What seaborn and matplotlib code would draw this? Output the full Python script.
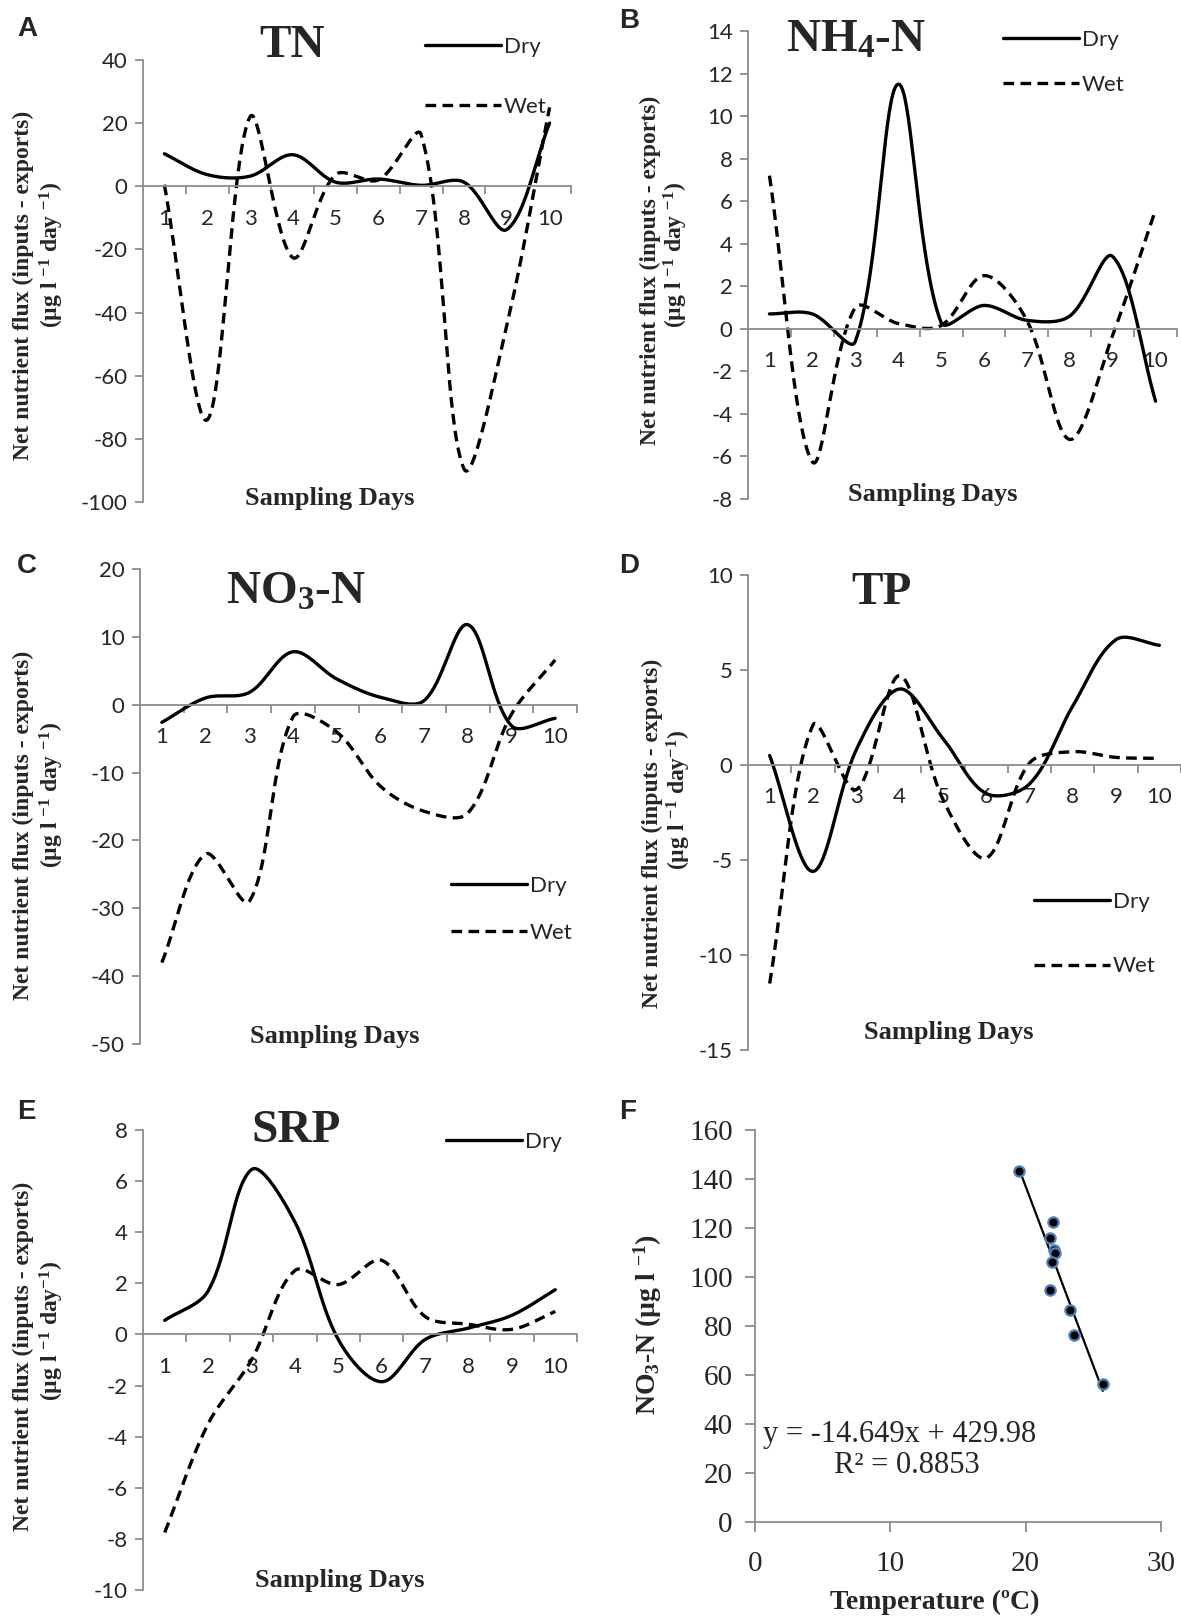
import numpy as np
import matplotlib
matplotlib.use("Agg")
import matplotlib.pyplot as plt
import seaborn as sns

days = list(range(1, 11))

tn_dry = [10.3, 3.7, 3.2, 10.0, 1.3, 2.3, 0.3, 1.3, -13.7, 20.0]
tn_wet = [0.5, -74.0, 22.0, -22.6, 3.7, 2.0, 16.3, -89.5, -44.0, 25.0]

nh4_dry = [0.7, 0.7, -0.6, 11.5, 0.3, 1.1, 0.4, 0.6, 3.4, -3.4]
nh4_wet = [7.2, -6.25, 1.0, 0.25, 0.15, 2.5, 0.4, -5.2, -0.3, 5.6]

no3_dry = [-2.6, 1.0, 1.8, 7.8, 3.8, 1.1, 0.6, 11.8, -3.1, -2.0]
no3_wet = [-38.0, -22.0, -29.0, -1.8, -4.0, -12.0, -15.7, -16.0, -1.4, 6.6]

tp_dry = [0.5, -5.6, 0.8, 4.0, 1.4, -1.5, -1.0, 3.1, 6.6, 6.3]
tp_wet = [-11.5, 2.1, -1.3, 4.7, -1.8, -4.9, 0.1, 0.7, 0.4, 0.35]

srp_dry = [0.55, 1.7, 6.45, 4.4, -0.2, -1.85, -0.2, 0.25, 0.75, 1.75]
srp_wet = [-7.75, -3.5, -1.0, 2.5, 1.95, 2.9, 0.7, 0.4, 0.2, 0.9]

temps = [19.5, 22.0, 21.8, 22.1, 22.2, 21.95, 21.8, 23.3, 23.6, 25.7]
no3_conc = [143.2, 122.3, 116.1, 111.0, 109.6, 106.2, 94.6, 86.4, 76.2, 56.2]
slope, intercept = -14.649, 429.98

W, H = 1181, 1618
GRAY = "#8c8c8c"
SERIF = "Liberation Serif"
SANS = "Lato"

sns.set_theme(style="white")
plt.rcParams["font.family"] = [SANS, "DejaVu Sans"]
plt.rcParams["axes.unicode_minus"] = False
plt.rcParams["mathtext.fontset"] = "custom"
plt.rcParams["mathtext.rm"] = "Liberation Serif:bold"
plt.rcParams["mathtext.it"] = "Liberation Serif:bold"
plt.rcParams["mathtext.bf"] = "Liberation Serif:bold"


def smooth(x, y, sx, sy, n=40):
    # excel-like smoothed line, tangents weighted by segment length on screen
    p = np.column_stack([np.asarray(x, float) * sx, np.asarray(y, float) * sy])
    t = np.linspace(0, 1, n)[:, None]
    out = []
    k = len(p)
    for i in range(k - 1):
        p1, p2 = p[i], p[i + 1]
        p0 = p[i - 1] if i > 0 else p1
        p3 = p[i + 2] if i + 2 < k else p2
        d01 = np.hypot(*(p1 - p0))
        d12 = np.hypot(*(p2 - p1))
        d23 = np.hypot(*(p3 - p2))
        c1 = p1 + (p2 - p0) * d12 / (d01 + d12) / 3
        c2 = p2 - (p3 - p1) * d12 / (d12 + d23) / 3
        b = (1 - t) ** 3 * p1 + 3 * (1 - t) ** 2 * t * c1 + 3 * (1 - t) * t ** 2 * c2 + t ** 3 * p2
        out.append(b if i == 0 else b[1:])
    out = np.vstack(out)
    return out[:, 0] / sx, out[:, 1] / sy


def px_axes(left, top, right, bottom):
    return fig.add_axes([left / W, 1 - bottom / H, (right - left) / W, (bottom - top) / H])


def ftext(x, y, s, **kw):
    fig.text(x / W, 1 - y / H, s, **kw)


fig = plt.figure(figsize=(W / 100, H / 100), dpi=100)

panels = [
    ("A", "TN", tn_dry, tn_wet, (143, 60, 571, 502), (-100, 40), 20, (17, 29), (292, 46), (330, 498),
     [(23, 285, "Net nutrient flux (inputs - exports)"), (52, 255, r"(µg l $^{-1}$ day $^{-1}$)")], (425, 37), 1.8, True),
    ("B", r"NH$_4$-N", nh4_dry, nh4_wet, (748, 31, 1177, 499), (-8, 14), 2, (619, 21), (856, 41), (933, 495),
     [(650, 270, "Net nutrient flux (inputs - exports)"), (676, 255, r"(µg l $^{-1}$ day $^{-1}$)")], (1003, 30), 1.13, True),
    ("C", r"NO$_3$-N", no3_dry, no3_wet, (140, 569, 577, 1044), (-50, 20), 10, (17, 566), (296, 593), (335, 1037),
     [(23, 825, "Net nutrient flux (inputs - exports)"), (52, 795, r"(µg l $^{-1}$ day $^{-1}$)")], (451, 876), 1.2, True),
    ("D", "TP", tp_dry, tp_wet, (748, 575, 1181, 1050), (-15, 10), 5, (619, 566), (882, 593), (949, 1033),
     [(652, 833, "Net nutrient flux (inputs - exports)"), (679, 800, r"(µg l $^{-1}$ day$^{-1}$)")], (1034, 892), 2.0, True),
    ("E", "SRP", srp_dry, srp_wet, (143, 1130, 577, 1590), (-10, 8), 2, (17, 1112), (296, 1131), (340, 1580),
     [(23, 1356, "Net nutrient flux (inputs - exports)"), (52, 1331, r"(µg l $^{-1}$ day$^{-1}$)")], (446, 1132), 1.4, False),
]

for (letter, title, dry, wet, box, ylim, step, lpos, tpos, spos, ylines, legpos, lspace, showwet) in panels:
    ax = px_axes(*box)
    sx = (box[2] - box[0]) / 10.0
    sy = (box[3] - box[1]) / float(ylim[1] - ylim[0])
    xs, ys = smooth(days, dry, sx, sy)
    sns.lineplot(x=xs, y=ys, sort=False, estimator=None, ax=ax, color="black", lw=2.4, label="Dry")
    xw, yw = smooth(days, wet, sx, sy)
    sns.lineplot(x=xw, y=yw, sort=False, estimator=None, ax=ax, color="black", lw=2.4, label="Wet")
    dry_line, wet_line = ax.lines[0], ax.lines[1]
    wet_line.set_dashes([3.2, 1.9])

    ax.set_xlim(0.5, 10.5)
    ax.set_ylim(*ylim)
    ax.set_yticks(np.arange(ylim[0], ylim[1] + step / 2, step))
    ax.set_xticks(days)
    ax.set_xticklabels([str(d) for d in days])
    ax.set_xticks(np.arange(1.5, 10.6, 1), minor=True)
    for s in ["top", "right"]:
        ax.spines[s].set_visible(False)
    ax.spines["left"].set_color(GRAY)
    ax.spines["bottom"].set_color(GRAY)
    ax.spines["left"].set_linewidth(1.3)
    ax.spines["bottom"].set_linewidth(1.3)
    ax.spines["bottom"].set_position(("data", 0))
    ax.tick_params(axis="x", which="major", length=0, pad=16, labelsize=16)
    ax.tick_params(axis="x", which="minor", length=6, width=1.3, color=GRAY, direction="out", bottom=True)
    ax.tick_params(axis="y", length=6, width=1.3, color=GRAY, direction="out", left=True, pad=5, labelsize=16)
    ax.set_xlabel("")
    ax.set_ylabel("")
    ax.grid(False)

    handles = [dry_line, wet_line] if showwet else [dry_line]
    ax.legend(handles=handles, labels=["Dry", "Wet"][:len(handles)], frameon=False, fontsize=16,
              handlelength=3.4, handletextpad=0.15, labelspacing=lspace,
              loc="upper left", bbox_to_anchor=((legpos[0] - box[0]) / (box[2] - box[0]),
                                                (box[3] - legpos[1]) / (box[3] - box[1])),
              borderaxespad=0, borderpad=0)

    ftext(*lpos, letter, fontsize=20, fontweight="bold", ha="left", va="center", family="Liberation Sans")
    ftext(*tpos, title, fontsize=34, fontweight="bold", ha="center", va="center", family=SERIF)
    ftext(*spos, "Sampling Days", fontsize=19, fontweight="bold", ha="center", va="center", family=SERIF)
    for (x, y, s) in ylines:
        ftext(x, y, s, fontsize=17, fontweight="bold", ha="center", va="center", rotation=90, family=SERIF)

# panel F
axf = px_axes(755, 1130, 1161, 1522)
sns.scatterplot(x=temps, y=no3_conc, ax=axf, color="black", edgecolor="#4f81bd", s=55, linewidth=1.6, zorder=3)
tx = np.array([min(temps), max(temps)])
sns.lineplot(x=tx, y=slope * tx + intercept, ax=axf, color="black", lw=1.6, zorder=2)
axf.set_xlim(0, 30)
axf.set_ylim(0, 160)
axf.set_xticks([0, 10, 20, 30])
axf.set_yticks(np.arange(0, 161, 20))
for s in ["top", "right"]:
    axf.spines[s].set_visible(False)
for s in ["left", "bottom"]:
    axf.spines[s].set_color(GRAY)
    axf.spines[s].set_linewidth(1.3)
axf.tick_params(axis="x", length=7, width=1.3, color=GRAY, direction="out", bottom=True, pad=14)
axf.tick_params(axis="y", length=7, width=1.3, color=GRAY, direction="out", left=True, pad=9)
for lab in axf.get_xticklabels() + axf.get_yticklabels():
    lab.set_family(SERIF)
    lab.set_fontsize(21)
axf.grid(False)
axf.text(0.02, 0.224, "y = -14.649x + 429.98", transform=axf.transAxes, fontsize=22, family=SERIF, va="center")
axf.text(0.374, 0.143, "R² = 0.8853", transform=axf.transAxes, fontsize=22, family=SERIF, ha="center", va="center")
ftext(619, 1112, "F", fontsize=20, fontweight="bold", ha="left", va="center", family="Liberation Sans")
ftext(935, 1602, "Temperature (ºC)", fontsize=20, fontweight="bold", ha="center", va="center", family=SERIF)
ftext(648, 1325, r"NO$_3$-N (µg l $^{-1}$)", fontsize=20, fontweight="bold", ha="center", va="center",
      rotation=90, family=SERIF)

fig.savefig("out.png", dpi=100)
